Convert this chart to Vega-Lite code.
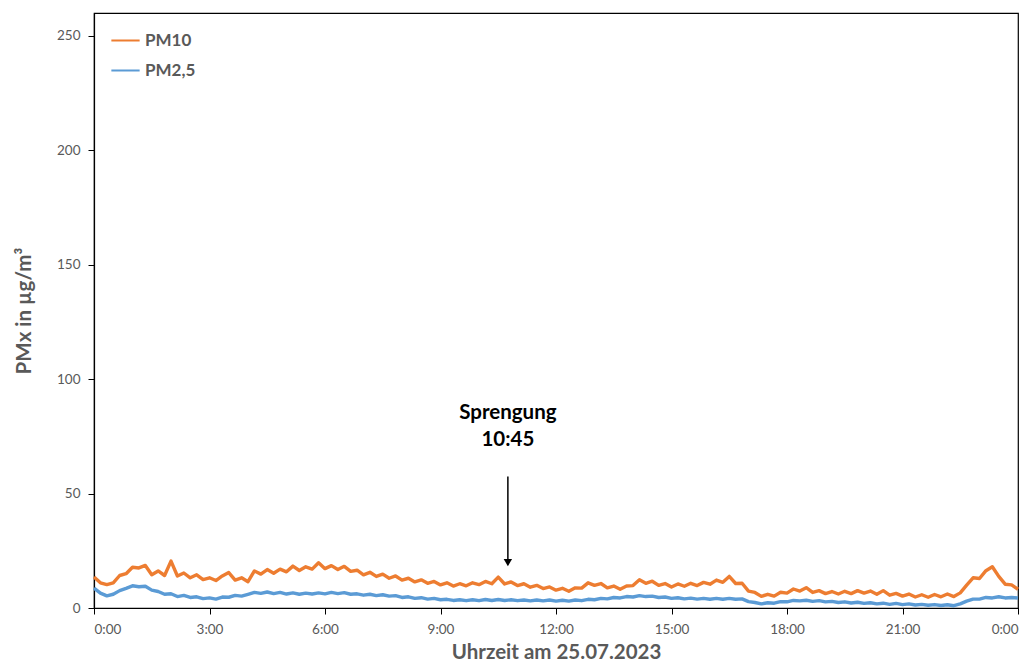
{
  "$schema": "https://vega.github.io/schema/vega-lite/v6.json",
  "width": 924,
  "height": 595,
  "autosize": {"type": "none"},
  "padding": {"left": 94, "top": 13, "right": 16, "bottom": 61},
  "background": "white",
  "config": {
    "view": {"stroke": "black", "strokeWidth": 1.2},
    "font": "Lato",
    "axis": {
      "domainColor": "black", "domainWidth": 1.2,
      "tickColor": "black", "tickSize": 6,
      "labelColor": "#595959", "labelFontSize": 13.5, "labelFont": "Lato",
      "titleColor": "#595959", "titleFontSize": 20.5, "titleFont": "Lato", "titleFontWeight": "bold",
      "grid": false
    }
  },
  "layer": [
    {
      "data": {"values": [
{"m":0,"pm10":13.5,"pm25":8.7},{"m":10,"pm10":11.0,"pm25":6.5},{"m":20,"pm10":10.2,"pm25":5.3},{"m":30,"pm10":11.0,"pm25":6.0},{"m":40,"pm10":14.2,"pm25":7.6},{"m":50,"pm10":15.0,"pm25":8.6},
{"m":60,"pm10":17.8,"pm25":9.7},{"m":70,"pm10":17.5,"pm25":9.3},{"m":80,"pm10":18.6,"pm25":9.5},{"m":90,"pm10":14.5,"pm25":7.8},{"m":100,"pm10":16.2,"pm25":7.2},{"m":110,"pm10":14.2,"pm25":6.0},
{"m":120,"pm10":20.5,"pm25":6.2},{"m":130,"pm10":14.0,"pm25":5.0},{"m":140,"pm10":15.3,"pm25":5.5},{"m":150,"pm10":13.2,"pm25":4.6},{"m":160,"pm10":14.5,"pm25":4.9},{"m":170,"pm10":12.4,"pm25":4.1},
{"m":180,"pm10":13.2,"pm25":4.4},{"m":190,"pm10":12.0,"pm25":3.9},{"m":200,"pm10":14.0,"pm25":4.8},{"m":210,"pm10":15.5,"pm25":4.7},{"m":220,"pm10":12.2,"pm25":5.5},{"m":230,"pm10":13.2,"pm25":5.2},
{"m":240,"pm10":11.5,"pm25":6.0},{"m":250,"pm10":16.2,"pm25":6.8},{"m":260,"pm10":14.8,"pm25":6.4},{"m":270,"pm10":16.8,"pm25":7.0},{"m":280,"pm10":15.2,"pm25":6.3},{"m":290,"pm10":17.0,"pm25":6.8},
{"m":300,"pm10":15.8,"pm25":6.1},{"m":310,"pm10":18.3,"pm25":6.6},{"m":320,"pm10":16.4,"pm25":6.0},{"m":330,"pm10":18.0,"pm25":6.5},{"m":340,"pm10":17.0,"pm25":6.1},{"m":350,"pm10":19.8,"pm25":6.6},
{"m":360,"pm10":17.2,"pm25":6.2},{"m":370,"pm10":18.5,"pm25":6.8},{"m":380,"pm10":16.8,"pm25":6.3},{"m":390,"pm10":18.2,"pm25":6.7},{"m":400,"pm10":16.0,"pm25":6.0},{"m":410,"pm10":16.5,"pm25":6.2},
{"m":420,"pm10":14.5,"pm25":5.6},{"m":430,"pm10":15.6,"pm25":6.0},{"m":440,"pm10":13.8,"pm25":5.4},{"m":450,"pm10":14.8,"pm25":5.8},{"m":460,"pm10":13.0,"pm25":5.2},{"m":470,"pm10":14.0,"pm25":5.4},
{"m":480,"pm10":12.2,"pm25":4.6},{"m":490,"pm10":13.0,"pm25":4.9},{"m":500,"pm10":11.4,"pm25":4.2},{"m":510,"pm10":12.3,"pm25":4.5},{"m":520,"pm10":10.8,"pm25":3.9},{"m":530,"pm10":11.6,"pm25":4.2},
{"m":540,"pm10":10.1,"pm25":3.6},{"m":550,"pm10":11.0,"pm25":3.8},{"m":560,"pm10":9.6,"pm25":3.3},{"m":570,"pm10":10.6,"pm25":3.6},{"m":580,"pm10":9.7,"pm25":3.2},{"m":590,"pm10":11.0,"pm25":3.6},
{"m":600,"pm10":10.2,"pm25":3.2},{"m":610,"pm10":11.6,"pm25":3.7},{"m":620,"pm10":10.6,"pm25":3.3},{"m":630,"pm10":13.5,"pm25":3.7},{"m":640,"pm10":10.5,"pm25":3.3},{"m":650,"pm10":11.4,"pm25":3.6},
{"m":660,"pm10":9.8,"pm25":3.2},{"m":670,"pm10":10.6,"pm25":3.5},{"m":680,"pm10":9.1,"pm25":3.1},{"m":690,"pm10":9.9,"pm25":3.5},{"m":700,"pm10":8.5,"pm25":3.1},{"m":710,"pm10":9.2,"pm25":3.5},
{"m":720,"pm10":7.8,"pm25":3.0},{"m":730,"pm10":8.6,"pm25":3.4},{"m":740,"pm10":7.3,"pm25":3.0},{"m":750,"pm10":8.8,"pm25":3.5},{"m":760,"pm10":8.7,"pm25":3.2},{"m":770,"pm10":11.0,"pm25":3.8},
{"m":780,"pm10":9.9,"pm25":3.6},{"m":790,"pm10":10.7,"pm25":4.2},{"m":800,"pm10":8.8,"pm25":4.0},{"m":810,"pm10":9.6,"pm25":4.6},{"m":820,"pm10":8.2,"pm25":4.4},{"m":830,"pm10":9.6,"pm25":5.0},
{"m":840,"pm10":9.8,"pm25":4.8},{"m":850,"pm10":12.3,"pm25":5.4},{"m":860,"pm10":10.8,"pm25":5.0},{"m":870,"pm10":11.7,"pm25":5.2},{"m":880,"pm10":9.9,"pm25":4.6},{"m":890,"pm10":10.7,"pm25":4.8},
{"m":900,"pm10":9.2,"pm25":4.2},{"m":910,"pm10":10.5,"pm25":4.5},{"m":920,"pm10":9.5,"pm25":4.0},{"m":930,"pm10":10.8,"pm25":4.3},{"m":940,"pm10":9.8,"pm25":3.9},{"m":950,"pm10":11.2,"pm25":4.2},
{"m":960,"pm10":10.4,"pm25":3.8},{"m":970,"pm10":12.2,"pm25":4.2},{"m":980,"pm10":11.2,"pm25":3.8},{"m":990,"pm10":13.8,"pm25":4.2},{"m":1000,"pm10":10.7,"pm25":3.8},{"m":1010,"pm10":10.8,"pm25":4.0},
{"m":1020,"pm10":7.4,"pm25":2.8},{"m":1030,"pm10":6.8,"pm25":2.4},{"m":1040,"pm10":5.1,"pm25":1.8},{"m":1050,"pm10":6.0,"pm25":2.3},{"m":1060,"pm10":5.2,"pm25":2.1},{"m":1070,"pm10":6.9,"pm25":2.8},
{"m":1080,"pm10":6.5,"pm25":2.7},{"m":1090,"pm10":8.3,"pm25":3.3},{"m":1100,"pm10":7.4,"pm25":3.1},{"m":1110,"pm10":8.9,"pm25":3.4},{"m":1120,"pm10":6.8,"pm25":2.9},{"m":1130,"pm10":7.6,"pm25":3.2},
{"m":1140,"pm10":6.3,"pm25":2.7},{"m":1150,"pm10":7.2,"pm25":2.9},{"m":1160,"pm10":6.1,"pm25":2.4},{"m":1170,"pm10":7.3,"pm25":2.7},{"m":1180,"pm10":6.3,"pm25":2.2},{"m":1190,"pm10":7.6,"pm25":2.5},
{"m":1200,"pm10":6.5,"pm25":2.0},{"m":1210,"pm10":7.4,"pm25":2.3},{"m":1220,"pm10":6.0,"pm25":1.8},{"m":1230,"pm10":7.6,"pm25":2.1},{"m":1240,"pm10":5.6,"pm25":1.6},{"m":1250,"pm10":6.4,"pm25":2.0},
{"m":1260,"pm10":5.2,"pm25":1.5},{"m":1270,"pm10":6.1,"pm25":1.8},{"m":1280,"pm10":4.8,"pm25":1.3},{"m":1290,"pm10":5.8,"pm25":1.6},{"m":1300,"pm10":4.7,"pm25":1.2},{"m":1310,"pm10":5.9,"pm25":1.5},
{"m":1320,"pm10":4.9,"pm25":1.1},{"m":1330,"pm10":6.1,"pm25":1.4},{"m":1340,"pm10":5.0,"pm25":1.0},{"m":1350,"pm10":6.6,"pm25":1.8},{"m":1360,"pm10":10.0,"pm25":3.0},{"m":1370,"pm10":13.2,"pm25":3.9},
{"m":1380,"pm10":12.9,"pm25":3.9},{"m":1390,"pm10":16.3,"pm25":4.6},{"m":1400,"pm10":18.0,"pm25":4.4},{"m":1410,"pm10":13.8,"pm25":4.9},{"m":1420,"pm10":10.4,"pm25":4.4},{"m":1430,"pm10":10.1,"pm25":4.6},
{"m":1440,"pm10":8.2,"pm25":4.4}
      ]},
      "transform": [{"fold": ["pm10", "pm25"], "as": ["series", "value"]}],
      "mark": {"type": "line", "strokeWidth": 3.4, "interpolate": "linear", "strokeJoin": "round"},
      "encoding": {
        "x": {
          "field": "m", "type": "quantitative",
          "scale": {"domain": [0, 1440], "nice": false, "zero": false},
          "axis": {
            "values": [0, 180, 360, 540, 720, 900, 1080, 1260, 1440],
            "labelExpr": "(floor(datum.value / 60) % 24) + ':00'",
            "title": "Uhrzeit am 25.07.2023",
            "labelPadding": 8, "titlePadding": 7
          }
        },
        "y": {
          "field": "value", "type": "quantitative",
          "scale": {"domain": [0, 260], "nice": false},
          "axis": {
            "values": [0, 50, 100, 150, 200, 250],
            "title": "PMx in µg/m³",
            "labelPadding": 8, "titlePadding": 22
          }
        },
        "color": {
          "field": "series", "type": "nominal",
          "scale": {"domain": ["pm10", "pm25"], "range": ["#ED7D31", "#5B9BD5"]},
          "legend": {
            "title": null,
            "orient": "none", "legendX": 16, "legendY": 12,
            "labelExpr": "datum.label == 'pm10' ? 'PM10' : 'PM2,5'",
            "symbolType": "stroke", "symbolSize": 800, "symbolStrokeWidth": 2,
            "labelFontSize": 17, "labelFontWeight": "bold", "labelColor": "#595959",
            "labelFont": "Lato", "rowPadding": 6, "labelOffset": 4
          }
        }
      }
    },
    {
      "data": {"values": [{"m": 645, "v": 85.4, "label": "Sprengung"}, {"m": 645, "v": 73.2, "label": "10:45"}]},
      "mark": {"type": "text", "font": "Lato", "fontSize": 20.5, "fontWeight": "bold", "color": "black", "baseline": "middle", "align": "center"},
      "encoding": {
        "x": {"field": "m", "type": "quantitative"},
        "y": {"field": "v", "type": "quantitative"},
        "text": {"field": "label"}
      }
    },
    {
      "data": {"values": [{"m": 645, "v1": 57.5, "v2": 21}]},
      "mark": {"type": "rule", "color": "black", "strokeWidth": 1.5},
      "encoding": {
        "x": {"field": "m", "type": "quantitative"},
        "y": {"field": "v1", "type": "quantitative"},
        "y2": {"field": "v2"}
      }
    },
    {
      "data": {"values": [{"m": 645, "v": 19.8}]},
      "mark": {"type": "point", "shape": "triangle-down", "filled": true, "color": "black", "size": 70, "opacity": 1},
      "encoding": {
        "x": {"field": "m", "type": "quantitative"},
        "y": {"field": "v", "type": "quantitative"}
      }
    }
  ]
}
